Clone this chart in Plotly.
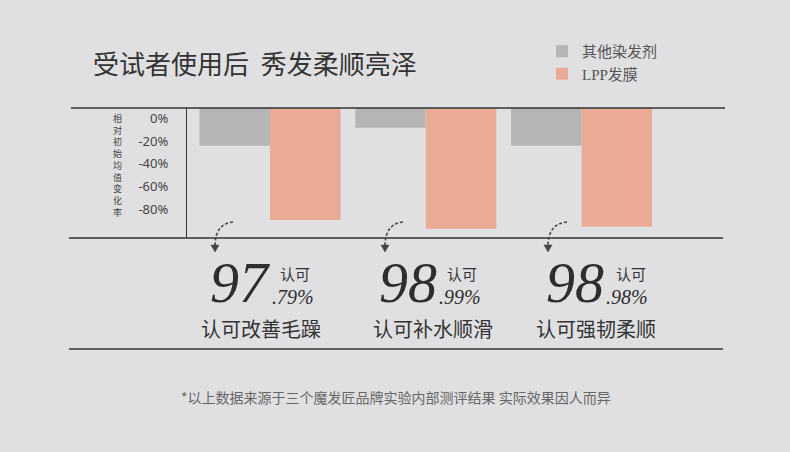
import plotly.graph_objects as go

# ---------------- data ----------------
categories = ["认可改善毛躁", "认可补水顺滑", "认可强韧柔顺"]
other_dye = [-24.1, -8.3, -24.1]      # 其他染发剂 (%)
lpp_mask = [-89.4, -97.0, -95.3]      # LPP发膜 (%)
series_names = ["其他染发剂", "LPP发膜"]
big_int = ["97", "98", "98"]
big_dec = [".79%", ".99%", ".98%"]
tick_vals = [0, -20, -40, -60, -80]
tick_text = ["0%", "-20%", "-40%", "-60%", "-80%"]
axis_title = "相对初始均值变化率"
bar_top = 9.05  # value at the top rule where bars begin

# ---------------- geometry helpers ----------------
W, H = 790, 452
L, R, T, B = 187, 725, 108, 238
PW, PH = R - L, B - T


def px(x):
    return (x - L) / PW


def py(y):
    return (B - y) / PH


BG = "#e0e0e2"
DARK = "#333333"
GRAY = "#b5b5b5"
SALMON = "#eaab96"
SERIF = "Liberation Serif, Noto Sans CJK SC"
SANS = "Noto Sans CJK SC, Noto Sans, sans-serif"

xs = list(range(len(categories)))
fig = go.Figure()
fig.add_trace(go.Bar(x=xs, y=[v - bar_top for v in other_dye], base=bar_top,
                     name=series_names[0], marker=dict(color=GRAY, line=dict(width=0))))
fig.add_trace(go.Bar(x=xs, y=[v - bar_top for v in lpp_mask], base=bar_top,
                     name=series_names[1], marker=dict(color=SALMON, line=dict(width=0))))

shapes = []
# horizontal rules
shapes.append(dict(type="line", xref="paper", yref="paper", x0=px(71), x1=px(725), y0=py(108), y1=py(108),
                   line=dict(color=DARK, width=1.3)))
shapes.append(dict(type="line", xref="paper", yref="paper", x0=px(69), x1=px(723), y0=py(238), y1=py(238),
                   line=dict(color=DARK, width=1.3)))
shapes.append(dict(type="line", xref="paper", yref="paper", x0=px(69), x1=px(723), y0=py(349), y1=py(349),
                   line=dict(color=DARK, width=1.3)))

annotations = []
# vertical axis title, one char per row
annotations.append(dict(text="<br>".join(axis_title), xref="paper", yref="paper", x=px(117), y=py(165),
                        xanchor="center", yanchor="middle", showarrow=False,
                        font=dict(family=SANS, size=9, color="#444")))

# title
annotations.append(dict(text="受试者使用后  秀发柔顺亮泽", xref="paper", yref="paper", x=px(91), y=py(63),
                        xanchor="left", yanchor="middle", showarrow=False,
                        font=dict(family=SANS, size=26, color="#333")))

# per-category number blocks
num_right = [270, 437, 604]
rk_center = [295, 462, 631]
cap_center = [260.5, 433, 596]
arrow_start = [233, 403, 567]
arrow_tip = [215, 385, 548]
for i in range(len(categories)):
    annotations.append(dict(text="<i>" + big_int[i] + "</i>", xref="paper", yref="paper",
                            x=px(num_right[i] + 2), y=py(282.5), xanchor="right", yanchor="middle",
                            showarrow=False, font=dict(family="Liberation Serif", size=58, color="#2e2e2e")))
    annotations.append(dict(text="<i>" + big_dec[i] + "</i>", xref="paper", yref="paper",
                            x=px(num_right[i]), y=py(296.5), xanchor="left", yanchor="middle",
                            showarrow=False, font=dict(family="Liberation Serif", size=20, color="#2e2e2e")))
    annotations.append(dict(text="认可", xref="paper", yref="paper",
                            x=px(rk_center[i]), y=py(273), xanchor="center", yanchor="middle",
                            showarrow=False, font=dict(family=SANS, size=15, color="#333")))
    annotations.append(dict(text=categories[i], xref="paper", yref="paper",
                            x=px(cap_center[i]), y=py(328), xanchor="center", yanchor="middle",
                            showarrow=False, font=dict(family=SANS, size=20, color="#333")))
    # curved dashed arrow
    sx, tx = arrow_start[i], arrow_tip[i]
    shapes.append(dict(type="path", xref="paper", yref="paper",
                       path=f"M {px(sx)},{py(222)} Q {px(tx)},{py(224)} {px(tx)},{py(246)}",
                       line=dict(color="#444", width=1.6, dash="3px,2px")))
    shapes.append(dict(type="path", xref="paper", yref="paper",
                       path=f"M {px(tx - 4)},{py(245)} L {px(tx + 4)},{py(245)} L {px(tx)},{py(252)} Z",
                       fillcolor="#444", line=dict(color="#444", width=0.5)))

# footnote
annotations.append(dict(text="*以上数据来源于三个魔发匠品牌实验内部测评结果 实际效果因人而异", xref="paper", yref="paper",
                        x=px(395.5), y=py(397), xanchor="center", yanchor="middle", showarrow=False,
                        font=dict(family=SANS, size=14, color="#666")))

fig.update_layout(
    width=W, height=H,
    margin=dict(l=L, r=W - R, t=T, b=H - B, pad=0),
    paper_bgcolor=BG, plot_bgcolor=BG,
    barmode="group", bargap=0.095, bargroupgap=0,
    showlegend=True,
    legend=dict(x=px(542), y=py(35), xanchor="left", yanchor="top", orientation="v",
                bgcolor="rgba(0,0,0,0)", font=dict(family=SERIF, size=15, color="#555"),
                tracegroupgap=0, itemclick=False, itemdoubleclick=False),
    xaxis=dict(range=[-0.533, 2.921], showticklabels=False, showgrid=False, zeroline=False,
               showline=False, ticks="", fixedrange=True),
    yaxis=dict(range=[-105.2, 9.05], tickvals=tick_vals, ticktext=tick_text, showgrid=False,
               zeroline=False, showline=True, linecolor=DARK, linewidth=1.3, ticks="",
               ticklabelstandoff=15, tickfont=dict(family="Noto Sans, sans-serif", size=13, color="#444"),
               fixedrange=True),
    shapes=shapes,
    annotations=annotations,
    hovermode=False,
)

fig.write_html("out.html", config={"displayModeBar": False},
               post_script="document.body.style.margin='0';document.body.style.background='" + BG + "';")
